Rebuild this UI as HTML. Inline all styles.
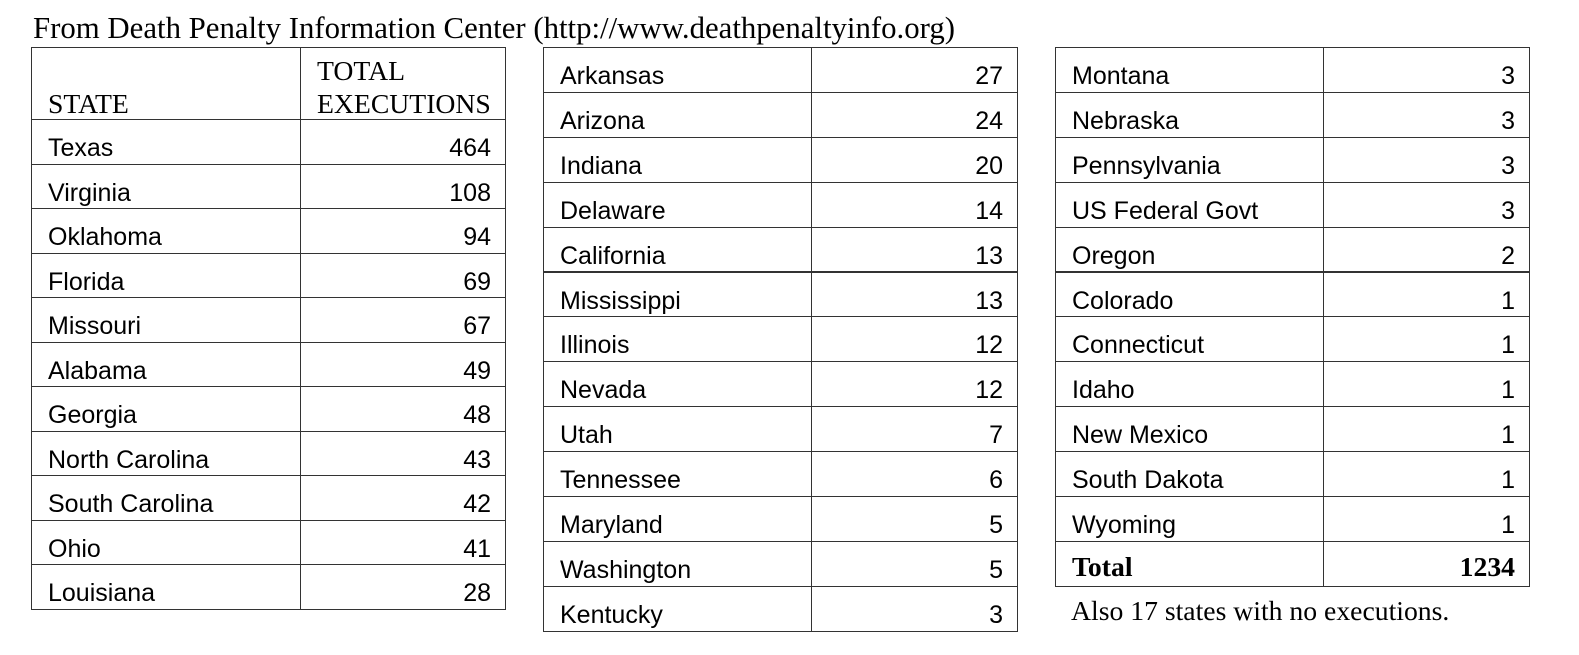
<!DOCTYPE html>
<html><head><meta charset="utf-8">
<style>
body{margin:0;width:1579px;height:655px;background:#fff;position:relative;overflow:hidden}
.t{position:absolute;font-family:"Liberation Serif",serif;color:#000;white-space:nowrap;line-height:1}
.c{position:absolute;border:1.5px solid #333;box-sizing:border-box}
.s{position:absolute;font-family:"Liberation Sans",sans-serif;font-size:25px;color:#000;white-space:nowrap;line-height:1}
</style></head><body>
<div class="t" style="left:33px;top:13px;font-size:30.8px">From Death Penalty Information Center (http://www.deathpenaltyinfo.org)</div>
<div class="t" style="left:1071px;top:597px;font-size:27.7px">Also 17 states with no executions.</div>
<script>
const states1=["Texas","Virginia","Oklahoma","Florida","Missouri","Alabama","Georgia","North Carolina","South Carolina","Ohio","Louisiana"];
const values1=[464,108,94,69,67,49,48,43,42,41,28];
const states2=["Arkansas","Arizona","Indiana","Delaware","California","Mississippi","Illinois","Nevada","Utah","Tennessee","Maryland","Washington","Kentucky"];
const values2=[27,24,20,14,13,13,12,12,7,6,5,5,3];
const states3=["Montana","Nebraska","Pennsylvania","US Federal Govt","Oregon","Colorado","Connecticut","Idaho","New Mexico","South Dakota","Wyoming"];
const values3=[3,3,3,3,2,1,1,1,1,1,1];
const totalLabel="Total";const totalValue=1234;

function box(x,y,w,h,name){
  const d=document.createElement('div');d.className='c';
  d.style.cssText=`left:${x}px;top:${y}px;width:${w}px;height:${h}px`;
  
  
  document.body.appendChild(d);return d;
}
function txt(x,y,s,name,right,cls,extra){
  const d=document.createElement('div');d.className=cls||'s';d.textContent=s;
  if(right){d.style.right=(1579-x)+'px';}else d.style.left=x+'px';
  d.style.top=y+'px';if(extra)d.style.cssText+=extra;
  
  
  document.body.appendChild(d);return d;
}
function table(x0,xd,x1,y0,rowH,states,vals,tname){
  states.forEach((s,i)=>{
    const y=y0+i*rowH;
    box(x0,y,xd-x0+1,rowH+1,tname+'-state-cell');
    box(xd,y,x1-xd,rowH+1,tname+'-value-cell');
    txt(x0+17,y+17,s,'state-label');
    txt(x1-15,y+17,String(vals[i]),'execution-count',true);
  });
}
box(31,47,270,73,'header-state-cell');
box(300,47,206,73,'header-executions-cell');
txt(48,90,'STATE','state-header',false,'t','font-size:27.7px');
txt(317,57,'TOTAL','total-header',false,'t','font-size:27.7px');
txt(317,90,'EXECUTIONS','executions-header',false,'t','font-size:27.7px');
table(31,300,506,119,44.5,states1,values1,'table1');
table(543,811,1018,47,44.9,states2,values2,'table2');
table(1055,1323,1530,47,44.9,states3,values3,'table3');
const ty=47+11*44.9;
box(1055,ty,269,45.9,'total-label-cell');
box(1323,ty,207,45.9,'total-value-cell');
txt(1072,ty+12,totalLabel,'total-label',false,'t','font-size:27.7px;font-weight:bold');
txt(1515,ty+12,String(totalValue),'total-value',true,'t','font-size:27.7px;font-weight:bold');
</script>
</body></html>
